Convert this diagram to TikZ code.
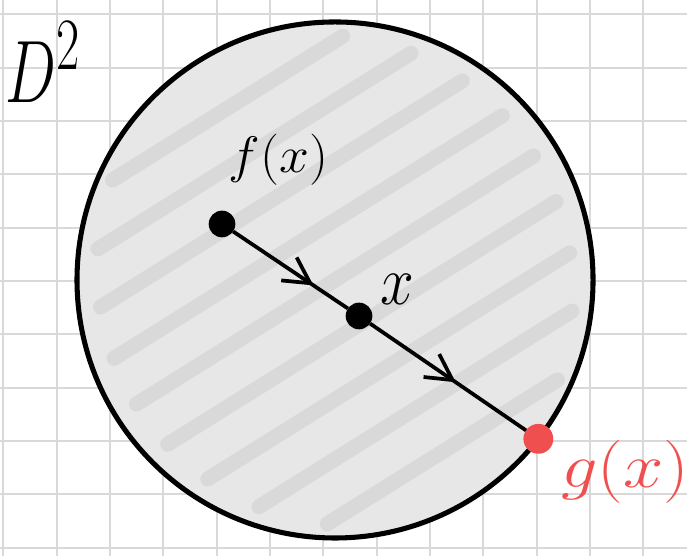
\documentclass[tikz,border=0pt]{standalone}
\usetikzlibrary{arrows.meta,decorations.markings}
\definecolor{gridgray}{HTML}{D9D9D9}
\definecolor{shadegray}{HTML}{E7E7E7}
\definecolor{scribblegray}{HTML}{D9D9D9}
\definecolor{hotred}{HTML}{EF4F4F}
\tikzset{
  gridline/.style={draw=gridgray,line width=1pt},
  dot/.style={circle,fill=black,inner sep=0pt,outer sep=0pt,minimum size=0.5cm},
  reddot/.style={dot,fill=hotred,minimum size=0.56cm},
  ray/.style={line width=2pt,postaction={decorate},
    decoration={markings,mark=at position #1 with {\arrow{Straight Barb[length=0.48cm,width=0.52cm,line width=2pt]}}}},
  hand/.style={inner sep=0pt,font=\fontsize{24.88}{30}\selectfont},
}
\begin{document}
\begin{tikzpicture}
  \useasboundingbox (0,0) rectangle (12.882,10.425);
  % squared paper
  \begin{scope}
    \clip (0,0) rectangle (12.882,10.425);
    \draw[gridline,shift={(0.062,0.157)}] (-1,-1) grid (13,11);
  \end{scope}
  % the disk with its scribbled shading
  \node[circle,minimum size=9.676cm,inner sep=0pt,outer sep=0pt,fill=shadegray,draw=black,line width=2.7pt,
    path picture={
      \foreach \k in {-4,...,4}{
        \pgfmathsetmacro\h{sqrt(4.838^2-(0.95*\k)^2)-0.45}
        \draw[scribblegray,line width=8pt,line cap=round]
          ([shift={(122:{0.95*\k})}]path picture bounding box.center) ++(212:\h) -- ++(32:2*\h);
      }
    }] (disk) at (6.282,5.175) {};
  % points and the ray
  \node[dot] (f) at (4.163,6.225) {};
  \node[dot] (x) at (6.732,4.5) {};
  \node[reddot] (g) at (disk.-38.3) {};
  \draw[ray=0.7] (f) -- (x);
  \draw[ray=0.55] (x) -- (g);
  % labels
  \node[hand] (dlabel) at (0.816,9.26) {\scalebox{1.3}[1.9]{$D^2$}};
  \node[hand] (flabel) at (5.22,7.43) {\scalebox{1.15}[1.1]{$f(x)$}};
  \node[hand] (xlabel) at (7.46,5.0) {\scalebox{1.3}[1.5]{$x$}};
  \node[hand,text=hotred] (glabel) at (11.72,1.58) {\scalebox{1.55}[1.35]{$g(x)$}};
\end{tikzpicture}
\end{document}
